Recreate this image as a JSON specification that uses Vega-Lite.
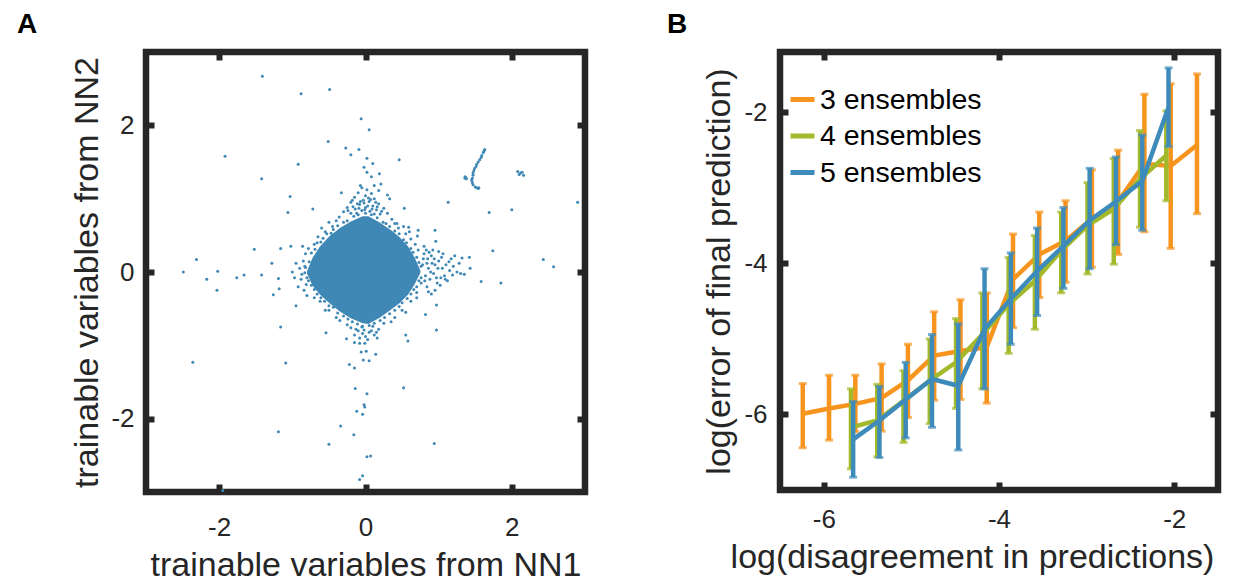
{
  "$schema": "https://vega.github.io/schema/vega-lite/v6.json",
  "background": "white",
  "padding": {"left": 13, "top": 7, "right": 0, "bottom": 0},
  "config": {
    "view": {"stroke": "#262626", "strokeWidth": 6.5},
    "font": "Liberation Sans",
    "axis": {"domain": false, "grid": false, "tickColor": "#262626", "tickWidth": 6, "tickSize": -8, "labelFont": "Liberation Sans", "labelFontSize": 26, "labelColor": "#262626", "titleFont": "Liberation Sans", "titleFontSize": 34, "titleFontWeight": "normal", "titleColor": "#262626", "labelFlush": false, "labelOverlap": false, "labelExpr": "toString(datum.value)"}
  },
  "spacing": 195,
  "bounds": "flush",
  "hconcat": [
    {
      "width": 439,
      "height": 440,
      "title": {"text": "A", "anchor": "start", "frame": "group", "dx": -129, "offset": -12, "fontSize": 28, "fontWeight": "bold", "color": "#000000", "font": "Liberation Sans", "baseline": "alphabetic"},
      "layer": [
        {
          "data": {"values": [
            {"x": -0.80, "top": 0.01, "bot": -0.02},
            {"x": -0.72, "top": 0.20, "bot": -0.19},
            {"x": -0.62, "top": 0.35, "bot": -0.31},
            {"x": -0.50, "top": 0.48, "bot": -0.42},
            {"x": -0.35, "top": 0.60, "bot": -0.54},
            {"x": -0.20, "top": 0.69, "bot": -0.63},
            {"x": -0.04, "top": 0.76, "bot": -0.70},
            {"x": 0.04, "top": 0.76, "bot": -0.71},
            {"x": 0.20, "top": 0.67, "bot": -0.62},
            {"x": 0.35, "top": 0.57, "bot": -0.51},
            {"x": 0.46, "top": 0.48, "bot": -0.43},
            {"x": 0.58, "top": 0.35, "bot": -0.31},
            {"x": 0.67, "top": 0.20, "bot": -0.17},
            {"x": 0.75, "top": 0.02, "bot": -0.01}
          ]},
          "mark": {"type": "area", "color": "#3f88b5", "opacity": 1, "interpolate": "linear"},
          "encoding": {
            "x": {"field": "x", "type": "quantitative", "scale": {"domain": [-3, 3], "nice": false, "zero": false},
                  "axis": {"orient": "bottom", "values": [-2, 0, 2], "title": "trainable variables from NN1", "labelBaseline": "alphabetic", "labelPadding": 51, "titleX": 219.5, "titleY": 83, "titleAlign": "center", "titleBaseline": "alphabetic"}},
            "y": {"field": "top", "type": "quantitative", "scale": {"domain": [-3, 3], "nice": false, "zero": false},
                  "axis": {"orient": "left", "values": [-2, 0, 2], "title": "trainable variables from NN2", "labelBaseline": "middle", "labelPadding": 20, "titleX": -49, "titleY": 220, "titleAlign": "center", "titleBaseline": "alphabetic", "titleAngle": -90}},
            "y2": {"field": "bot"}
          }
        },
        {
          "data": {"values": [
            {"x": -1.41, "y": 2.67}, {"x": -0.88, "y": 2.43}, {"x": -0.49, "y": 2.49}, {"x": -0.06, "y": 2.09}, {"x": 0.05, "y": 1.94},
            {"x": -1.92, "y": 1.58}, {"x": -0.51, "y": 1.78}, {"x": -0.27, "y": 1.69}, {"x": -0.09, "y": 1.67}, {"x": -0.20, "y": 1.60},
            {"x": 0.02, "y": 1.55}, {"x": 0.10, "y": 1.48}, {"x": -0.02, "y": 1.43}, {"x": 0.46, "y": 1.53}, {"x": -0.92, "y": 1.47},
            {"x": -1.42, "y": 1.27}, {"x": 0.02, "y": 1.36}, {"x": 0.08, "y": 1.30}, {"x": 0.19, "y": 1.34}, {"x": 0.12, "y": 1.18},
            {"x": 0.21, "y": 1.20}, {"x": -0.07, "y": 1.18}, {"x": 0.18, "y": 1.11}, {"x": -1.03, "y": 1.03}, {"x": -1.06, "y": 0.81},
            {"x": -0.72, "y": 0.86}, {"x": -0.33, "y": 1.08}, {"x": 0.30, "y": 1.05}, {"x": 0.33, "y": 1.00}, {"x": 0.53, "y": 0.87},
            {"x": 1.13, "y": 0.95}, {"x": 1.69, "y": 0.81}, {"x": 2.00, "y": 0.85}, {"x": 2.90, "y": 0.95}, {"x": 1.74, "y": 0.29},
            {"x": 2.43, "y": 0.17}, {"x": 2.57, "y": 0.07}, {"x": 1.58, "y": -0.13}, {"x": 1.85, "y": -0.15}, {"x": 1.42, "y": 0.20},
            {"x": 1.32, "y": 0.19}, {"x": 1.43, "y": 0.05}, {"x": 1.35, "y": -0.03}, {"x": 1.22, "y": 0.22}, {"x": 0.95, "y": 0.57},
            {"x": 0.72, "y": 0.57}, {"x": 0.96, "y": 0.42}, {"x": 0.71, "y": 0.49}, {"x": 0.59, "y": 0.61}, {"x": 0.43, "y": 0.66},
            {"x": 0.97, "y": -0.45}, {"x": 0.82, "y": -0.58}, {"x": 0.97, "y": -0.79}, {"x": 0.55, "y": -0.86}, {"x": 0.58, "y": -0.94},
            {"x": -2.49, "y": 0.00}, {"x": -2.31, "y": 0.17}, {"x": -2.02, "y": 0.01}, {"x": -2.17, "y": -0.10}, {"x": -2.03, "y": -0.25},
            {"x": -1.76, "y": -0.08}, {"x": -1.66, "y": -0.04}, {"x": -1.42, "y": -0.04}, {"x": -1.52, "y": 0.31}, {"x": -1.28, "y": 0.12},
            {"x": -1.16, "y": 0.32}, {"x": -1.02, "y": 0.35}, {"x": -1.19, "y": -0.09}, {"x": -1.26, "y": -0.31}, {"x": -1.18, "y": -0.23},
            {"x": -0.95, "y": -0.46}, {"x": -1.16, "y": -0.75}, {"x": -0.54, "y": -0.83}, {"x": -1.09, "y": -1.24}, {"x": -2.36, "y": -1.23},
            {"x": -0.26, "y": -0.91}, {"x": -0.15, "y": -0.96}, {"x": -0.08, "y": -0.97}, {"x": -0.01, "y": -0.97}, {"x": 0.16, "y": -0.90},
            {"x": -0.06, "y": -1.09}, {"x": 0.01, "y": -1.08}, {"x": 0.14, "y": -1.12}, {"x": -0.03, "y": -1.20}, {"x": 0.05, "y": -1.21},
            {"x": -0.22, "y": -1.26}, {"x": -0.15, "y": -1.31}, {"x": -0.14, "y": -1.59}, {"x": 0.02, "y": -1.66}, {"x": 0.52, "y": -1.58},
            {"x": -0.02, "y": -1.81}, {"x": -0.01, "y": -1.84}, {"x": -0.12, "y": -1.90}, {"x": -0.04, "y": -1.94}, {"x": -0.34, "y": -2.10},
            {"x": -0.16, "y": -2.22}, {"x": -1.19, "y": -2.18}, {"x": -0.50, "y": -2.35}, {"x": 0.94, "y": -2.34}, {"x": 0.02, "y": -2.52},
            {"x": 0.07, "y": -2.51}, {"x": -0.04, "y": -2.78}, {"x": -0.08, "y": -2.83}, {"x": -1.95, "y": -2.98},
            {"x": 1.63, "y": 1.67}, {"x": 1.62, "y": 1.65}, {"x": 1.61, "y": 1.63}, {"x": 1.59, "y": 1.59}, {"x": 1.58, "y": 1.56}, {"x": 1.56, "y": 1.53},
            {"x": 1.54, "y": 1.50}, {"x": 1.52, "y": 1.47}, {"x": 1.51, "y": 1.44}, {"x": 1.49, "y": 1.41}, {"x": 1.48, "y": 1.38},
            {"x": 1.47, "y": 1.35}, {"x": 1.47, "y": 1.32}, {"x": 1.46, "y": 1.28}, {"x": 1.45, "y": 1.25}, {"x": 1.46, "y": 1.22},
            {"x": 1.47, "y": 1.19}, {"x": 1.50, "y": 1.16}, {"x": 1.52, "y": 1.15}, {"x": 1.54, "y": 1.14}, {"x": 1.55, "y": 1.15},
            {"x": 1.36, "y": 1.28}, {"x": 1.37, "y": 1.29}, {"x": 1.36, "y": 1.30}, {"x": 1.38, "y": 1.27},
            {"x": 2.12, "y": 1.35}, {"x": 2.08, "y": 1.37}, {"x": 2.16, "y": 1.32}, {"x": 2.10, "y": 1.33}, {"x": 2.14, "y": 1.36},
            {"x": -0.05, "y": 1.15}, {"x": 0.02, "y": 1.12}, {"x": -0.10, "y": 1.08}, {"x": 0.08, "y": 1.07}, {"x": 0.00, "y": 1.04},
            {"x": -0.15, "y": 1.02}, {"x": 0.12, "y": 1.00}, {"x": -0.03, "y": 0.98}, {"x": 0.05, "y": 0.96}, {"x": -0.20, "y": 0.95},
            {"x": 0.18, "y": 0.93}, {"x": -0.08, "y": 0.92}, {"x": 0.10, "y": 0.90}, {"x": -0.25, "y": 0.88}, {"x": 0.25, "y": 0.87},
            {"x": 0.00, "y": 0.88}, {"x": -0.14, "y": 0.86}, {"x": 0.15, "y": 0.85}, {"x": -0.30, "y": 0.82}, {"x": 0.30, "y": 0.80},
            {"x": -0.05, "y": 0.84}, {"x": 0.06, "y": 0.83}, {"x": -0.20, "y": 0.80}, {"x": 0.20, "y": 0.79}, {"x": -0.36, "y": 0.75},
            {"x": 0.36, "y": 0.72}, {"x": -0.12, "y": 0.80}, {"x": 0.12, "y": 0.79},
            {"x": -0.02, "y": 0.94}, {"x": 0.03, "y": 0.90}, {"x": -0.07, "y": 0.96}, {"x": 0.07, "y": 0.99}, {"x": -0.11, "y": 0.93},
            {"x": 0.14, "y": 0.95}, {"x": -0.17, "y": 0.89}, {"x": 0.22, "y": 0.83}, {"x": -0.24, "y": 0.84}, {"x": 0.04, "y": 1.01},
            {"x": -0.01, "y": 0.85}, {"x": 0.09, "y": 0.86}, {"x": -0.09, "y": 0.87}, {"x": 0.16, "y": 0.89}, {"x": -0.18, "y": 0.98},
            {"x": 0.80, "y": 0.25}, {"x": 0.85, "y": 0.18}, {"x": 0.90, "y": 0.22}, {"x": 0.95, "y": 0.10}, {"x": 1.00, "y": 0.15},
            {"x": 1.05, "y": 0.05}, {"x": 1.10, "y": 0.10}, {"x": 1.15, "y": 0.02}, {"x": 1.20, "y": 0.08}, {"x": 0.82, "y": -0.05},
            {"x": 0.88, "y": -0.10}, {"x": 0.93, "y": -0.02}, {"x": 0.98, "y": -0.15}, {"x": 1.03, "y": -0.08}, {"x": 1.08, "y": -0.05},
            {"x": 0.78, "y": 0.10}, {"x": 0.86, "y": 0.05}, {"x": 0.92, "y": 0.30}, {"x": 0.84, "y": -0.20}, {"x": 0.95, "y": -0.25},
            {"x": 1.12, "y": -0.12}, {"x": 0.76, "y": -0.15}, {"x": 0.80, "y": 0.35}, {"x": 1.25, "y": 0.00}, {"x": 0.72, "y": 0.30},
            {"x": 0.70, "y": -0.28}, {"x": 1.00, "y": 0.28}, {"x": 0.90, "y": -0.30},
            {"x": 0.84, "y": 0.12}, {"x": 0.89, "y": 0.00}, {"x": 0.94, "y": 0.18}, {"x": 0.99, "y": 0.05}, {"x": 1.04, "y": 0.20},
            {"x": 1.09, "y": -0.10}, {"x": 1.14, "y": 0.14}, {"x": 1.19, "y": -0.04}, {"x": 1.28, "y": 0.12}, {"x": 1.30, "y": -0.02},
            {"x": 0.81, "y": -0.12}, {"x": 0.87, "y": 0.27}, {"x": 0.97, "y": -0.08}, {"x": 1.02, "y": -0.18}, {"x": 0.91, "y": 0.12},
            {"x": 0.79, "y": 0.18}, {"x": 0.83, "y": 0.30}, {"x": 1.06, "y": 0.25}, {"x": 1.17, "y": 0.18}, {"x": 0.86, "y": -0.27},
            {"x": -0.10, "y": -0.80}, {"x": 0.05, "y": -0.82}, {"x": -0.20, "y": -0.76}, {"x": 0.18, "y": -0.78}, {"x": 0.00, "y": -0.88},
            {"x": -0.05, "y": -0.75}, {"x": 0.10, "y": -0.74}, {"x": -0.15, "y": -0.86}, {"x": 0.12, "y": -0.86}, {"x": -0.25, "y": -0.72},
            {"x": 0.25, "y": -0.70}, {"x": 0.03, "y": -0.92}, {"x": -0.08, "y": -0.90},
            {"x": -0.02, "y": -0.79}, {"x": 0.08, "y": -0.80}, {"x": -0.13, "y": -0.78}, {"x": 0.15, "y": -0.82}, {"x": -0.04, "y": -0.84},
            {"x": -0.85, "y": 0.15}, {"x": -0.90, "y": 0.05}, {"x": -0.88, "y": -0.10}, {"x": -0.82, "y": 0.25}, {"x": -0.95, "y": 0.12},
            {"x": -0.92, "y": -0.20}, {"x": -0.84, "y": -0.25}, {"x": -1.00, "y": 0.00}, {"x": -0.78, "y": 0.32}, {"x": -0.80, "y": -0.32},
            {"x": -0.97, "y": -0.08}, {"x": -0.86, "y": 0.35}, {"x": -0.83, "y": 0.08}, {"x": -0.87, "y": -0.03}, {"x": -0.81, "y": -0.17},
            {"x": -0.55, "y": 0.55}, {"x": -0.65, "y": 0.48}, {"x": -0.45, "y": 0.62}, {"x": -0.70, "y": 0.38}, {"x": -0.40, "y": 0.70},
            {"x": -0.60, "y": 0.60}, {"x": -0.50, "y": 0.68}, {"x": 0.45, "y": 0.60}, {"x": 0.55, "y": 0.52}, {"x": 0.62, "y": 0.45},
            {"x": 0.40, "y": 0.66}, {"x": 0.68, "y": 0.38}, {"x": 0.52, "y": 0.62}, {"x": 0.60, "y": 0.55}, {"x": 0.62, "y": -0.40},
            {"x": 0.50, "y": -0.52}, {"x": 0.40, "y": -0.62}, {"x": 0.70, "y": -0.35}, {"x": 0.55, "y": -0.55}, {"x": 0.35, "y": -0.68},
            {"x": -0.62, "y": -0.40}, {"x": -0.50, "y": -0.52}, {"x": -0.40, "y": -0.62}, {"x": -0.70, "y": -0.35}, {"x": -0.55, "y": -0.52},
            {"x": -0.35, "y": -0.66},
            {"x": -0.74, "y": 0.26}, {"x": -0.66, "y": 0.40}, {"x": -0.58, "y": 0.46}, {"x": -0.44, "y": 0.58}, {"x": -0.30, "y": 0.68},
            {"x": -0.16, "y": 0.76}, {"x": 0.00, "y": 0.80}, {"x": 0.16, "y": 0.74}, {"x": 0.28, "y": 0.66}, {"x": 0.40, "y": 0.56},
            {"x": 0.52, "y": 0.44}, {"x": 0.62, "y": 0.32}, {"x": 0.70, "y": 0.20}, {"x": 0.76, "y": 0.08}, {"x": 0.76, "y": -0.08},
            {"x": 0.70, "y": -0.20}, {"x": 0.62, "y": -0.30}, {"x": 0.50, "y": -0.42}, {"x": 0.40, "y": -0.52}, {"x": 0.26, "y": -0.62},
            {"x": 0.12, "y": -0.70}, {"x": -0.04, "y": -0.74}, {"x": -0.18, "y": -0.68}, {"x": -0.30, "y": -0.60}, {"x": -0.44, "y": -0.48},
            {"x": -0.56, "y": -0.40}, {"x": -0.66, "y": -0.30}, {"x": -0.74, "y": -0.18}, {"x": -0.82, "y": 0.06}, {"x": -0.80, "y": -0.08},
            {"x": -0.77, "y": 0.14}, {"x": -0.69, "y": 0.31}, {"x": -0.61, "y": 0.41}, {"x": -0.53, "y": 0.52}, {"x": -0.47, "y": 0.53},
            {"x": -0.38, "y": 0.63}, {"x": -0.25, "y": 0.70}, {"x": -0.10, "y": 0.78}, {"x": 0.08, "y": 0.78}, {"x": 0.24, "y": 0.68},
            {"x": 0.33, "y": 0.62}, {"x": 0.46, "y": 0.52}, {"x": 0.56, "y": 0.40}, {"x": 0.65, "y": 0.27}, {"x": 0.73, "y": 0.13},
            {"x": 0.73, "y": -0.12}, {"x": 0.66, "y": -0.24}, {"x": 0.57, "y": -0.36}, {"x": 0.46, "y": -0.47}, {"x": 0.33, "y": -0.57},
            {"x": 0.20, "y": -0.66}, {"x": 0.05, "y": -0.73}, {"x": -0.11, "y": -0.71}, {"x": -0.24, "y": -0.64}, {"x": -0.38, "y": -0.56},
            {"x": -0.50, "y": -0.46}, {"x": -0.61, "y": -0.35}, {"x": -0.70, "y": -0.24}, {"x": -0.78, "y": -0.12}, {"x": -0.83, "y": -0.01}
          ]},
          "mark": {"type": "circle", "size": 9, "color": "#3f88b5", "opacity": 1},
          "encoding": {
            "x": {"field": "x", "type": "quantitative", "scale": {"domain": [-3, 3], "nice": false, "zero": false},
                  "axis": {"orient": "top", "values": [-2, 0, 2], "labels": false, "title": null}},
            "y": {"field": "y", "type": "quantitative", "scale": {"domain": [-3, 3], "nice": false, "zero": false},
                  "axis": {"orient": "right", "values": [-2, 0, 2], "labels": false, "title": null}}
          }
        }
      ],
      "resolve": {"axis": {"x": "independent", "y": "independent"}}
    },
    {
      "width": 438,
      "height": 438,
      "title": {"text": "B", "anchor": "start", "frame": "group", "dx": -113, "offset": -12, "fontSize": 28, "fontWeight": "bold", "color": "#000000", "font": "Liberation Sans", "baseline": "alphabetic"},
      "data": {"values": [
        {"ens": "3 ensembles", "x": -6.24, "y": -5.99, "hi": -5.59, "lo": -6.44},
        {"ens": "3 ensembles", "x": -5.94, "y": -5.92, "hi": -5.48, "lo": -6.34},
        {"ens": "3 ensembles", "x": -5.64, "y": -5.86, "hi": -5.48, "lo": -6.23},
        {"ens": "3 ensembles", "x": -5.34, "y": -5.78, "hi": -5.33, "lo": -6.22},
        {"ens": "3 ensembles", "x": -5.04, "y": -5.55, "hi": -5.07, "lo": -6.04},
        {"ens": "3 ensembles", "x": -4.74, "y": -5.22, "hi": -4.64, "lo": -5.81},
        {"ens": "3 ensembles", "x": -4.44, "y": -5.16, "hi": -4.48, "lo": -5.80},
        {"ens": "3 ensembles", "x": -4.14, "y": -5.11, "hi": -4.39, "lo": -5.85},
        {"ens": "3 ensembles", "x": -3.84, "y": -4.21, "hi": -3.61, "lo": -4.85},
        {"ens": "3 ensembles", "x": -3.54, "y": -3.88, "hi": -3.32, "lo": -4.45},
        {"ens": "3 ensembles", "x": -3.24, "y": -3.70, "hi": -3.17, "lo": -4.25},
        {"ens": "3 ensembles", "x": -2.94, "y": -3.41, "hi": -2.76, "lo": -4.05},
        {"ens": "3 ensembles", "x": -2.64, "y": -3.18, "hi": -2.50, "lo": -3.88},
        {"ens": "3 ensembles", "x": -2.34, "y": -2.68, "hi": -1.76, "lo": -3.58},
        {"ens": "3 ensembles", "x": -2.04, "y": -2.71, "hi": -1.62, "lo": -3.80},
        {"ens": "3 ensembles", "x": -1.74, "y": -2.43, "hi": -1.49, "lo": -3.34},
        {"ens": "4 ensembles", "x": -5.69, "y": -6.17, "hi": -5.66, "lo": -6.72},
        {"ens": "4 ensembles", "x": -5.39, "y": -6.08, "hi": -5.60, "lo": -6.56},
        {"ens": "4 ensembles", "x": -5.09, "y": -5.82, "hi": -5.42, "lo": -6.37},
        {"ens": "4 ensembles", "x": -4.79, "y": -5.55, "hi": -5.00, "lo": -6.12},
        {"ens": "4 ensembles", "x": -4.49, "y": -5.31, "hi": -4.73, "lo": -5.92},
        {"ens": "4 ensembles", "x": -4.19, "y": -4.94, "hi": -4.39, "lo": -5.66},
        {"ens": "4 ensembles", "x": -3.89, "y": -4.54, "hi": -3.92, "lo": -5.19},
        {"ens": "4 ensembles", "x": -3.59, "y": -4.23, "hi": -3.63, "lo": -4.87},
        {"ens": "4 ensembles", "x": -3.29, "y": -3.83, "hi": -3.32, "lo": -4.39},
        {"ens": "4 ensembles", "x": -2.99, "y": -3.50, "hi": -2.93, "lo": -4.14},
        {"ens": "4 ensembles", "x": -2.69, "y": -3.28, "hi": -2.61, "lo": -4.01},
        {"ens": "4 ensembles", "x": -2.39, "y": -2.88, "hi": -2.24, "lo": -3.52},
        {"ens": "4 ensembles", "x": -2.09, "y": -2.57, "hi": -1.98, "lo": -3.17},
        {"ens": "5 ensembles", "x": -5.665, "y": -6.33, "hi": -5.83, "lo": -6.83},
        {"ens": "5 ensembles", "x": -5.365, "y": -6.08, "hi": -5.63, "lo": -6.57},
        {"ens": "5 ensembles", "x": -5.065, "y": -5.80, "hi": -5.31, "lo": -6.31},
        {"ens": "5 ensembles", "x": -4.765, "y": -5.53, "hi": -4.94, "lo": -6.17},
        {"ens": "5 ensembles", "x": -4.465, "y": -5.62, "hi": -4.80, "lo": -6.47},
        {"ens": "5 ensembles", "x": -4.165, "y": -4.87, "hi": -4.07, "lo": -5.66},
        {"ens": "5 ensembles", "x": -3.865, "y": -4.47, "hi": -3.86, "lo": -5.07},
        {"ens": "5 ensembles", "x": -3.565, "y": -4.10, "hi": -3.53, "lo": -4.69},
        {"ens": "5 ensembles", "x": -3.265, "y": -3.77, "hi": -3.26, "lo": -4.33},
        {"ens": "5 ensembles", "x": -2.965, "y": -3.43, "hi": -2.74, "lo": -4.07},
        {"ens": "5 ensembles", "x": -2.665, "y": -3.18, "hi": -2.59, "lo": -3.75},
        {"ens": "5 ensembles", "x": -2.365, "y": -2.91, "hi": -2.30, "lo": -3.56},
        {"ens": "5 ensembles", "x": -2.065, "y": -1.93, "hi": -1.41, "lo": -2.45}
      ]},
      "layer": [
        {
          "transform": [{"filter": "datum.ens == '3 ensembles'"}],
          "mark": {"type": "rule", "color": "#f7941d", "strokeWidth": 4.5},
          "encoding": {
            "x": {"field": "x", "type": "quantitative", "scale": {"domain": [-6.5, -1.5], "nice": false, "zero": false},
                  "axis": {"orient": "bottom", "values": [-6, -4, -2], "title": "log(disagreement in predictions)", "labelBaseline": "alphabetic", "labelPadding": 45, "titleX": 192, "titleY": 77, "titleAlign": "center", "titleBaseline": "alphabetic"}},
            "y": {"field": "lo", "type": "quantitative", "scale": {"domain": [-7, -1.2], "nice": false, "zero": false},
                  "axis": {"orient": "left", "values": [-6, -4, -2], "title": "log(error of final prediction)", "labelBaseline": "middle", "labelPadding": 21, "titleX": -51, "titleY": 219, "titleAlign": "center", "titleBaseline": "alphabetic", "titleAngle": -90}},
            "y2": {"field": "hi"}
          }
        },
        {
          "transform": [{"filter": "datum.ens == '3 ensembles'"}, {"fold": ["lo", "hi"], "as": ["end", "v"]}],
          "mark": {"type": "tick", "orient": "horizontal", "color": "#f7941d", "size": 8, "thickness": 3},
          "encoding": {
            "x": {"field": "x", "type": "quantitative", "scale": {"domain": [-6.5, -1.5], "nice": false, "zero": false},
                  "axis": {"orient": "top", "values": [-6, -4, -2], "labels": false, "title": null}},
            "y": {"field": "v", "type": "quantitative", "scale": {"domain": [-7, -1.2], "nice": false, "zero": false},
                  "axis": {"orient": "right", "values": [-6, -4, -2], "labels": false, "title": null}}
          }
        },
        {
          "transform": [{"filter": "datum.ens == '3 ensembles'"}],
          "mark": {"type": "line", "strokeWidth": 4.5},
          "encoding": {
            "x": {"field": "x", "type": "quantitative", "scale": {"domain": [-6.5, -1.5], "nice": false, "zero": false}, "axis": null},
            "y": {"field": "y", "type": "quantitative", "scale": {"domain": [-7, -1.2], "nice": false, "zero": false}, "axis": null},
            "color": {"field": "ens", "type": "nominal",
                      "scale": {"domain": ["3 ensembles", "4 ensembles", "5 ensembles"], "range": ["#f7941d", "#a3b92b", "#3d8bbb"]},
                      "legend": {"orient": "none", "legendX": 642, "legendY": 33, "title": null, "symbolType": "stroke", "symbolStrokeWidth": 5, "symbolSize": 576, "labelFontSize": 28.5, "labelFont": "Liberation Sans", "labelColor": "#000000", "labelLimit": 0, "rowPadding": 7.5, "labelOffset": 3, "padding": 0}}
          }
        },
        {
          "transform": [{"filter": "datum.ens == '4 ensembles'"}],
          "mark": {"type": "rule", "color": "#a3b92b", "strokeWidth": 4.5},
          "encoding": {
            "x": {"field": "x", "type": "quantitative", "scale": {"domain": [-6.5, -1.5], "nice": false, "zero": false}, "axis": null},
            "y": {"field": "lo", "type": "quantitative", "scale": {"domain": [-7, -1.2], "nice": false, "zero": false}, "axis": null},
            "y2": {"field": "hi"}
          }
        },
        {
          "transform": [{"filter": "datum.ens == '4 ensembles'"}, {"fold": ["lo", "hi"], "as": ["end", "v"]}],
          "mark": {"type": "tick", "orient": "horizontal", "color": "#a3b92b", "size": 8, "thickness": 3},
          "encoding": {
            "x": {"field": "x", "type": "quantitative", "scale": {"domain": [-6.5, -1.5], "nice": false, "zero": false}, "axis": null},
            "y": {"field": "v", "type": "quantitative", "scale": {"domain": [-7, -1.2], "nice": false, "zero": false}, "axis": null}
          }
        },
        {
          "transform": [{"filter": "datum.ens == '4 ensembles'"}],
          "mark": {"type": "line", "strokeWidth": 4.5},
          "encoding": {
            "x": {"field": "x", "type": "quantitative", "scale": {"domain": [-6.5, -1.5], "nice": false, "zero": false}, "axis": null},
            "y": {"field": "y", "type": "quantitative", "scale": {"domain": [-7, -1.2], "nice": false, "zero": false}, "axis": null},
            "color": {"field": "ens", "type": "nominal"}
          }
        },
        {
          "transform": [{"filter": "datum.ens == '5 ensembles'"}],
          "mark": {"type": "rule", "color": "#3d8bbb", "strokeWidth": 4.5},
          "encoding": {
            "x": {"field": "x", "type": "quantitative", "scale": {"domain": [-6.5, -1.5], "nice": false, "zero": false}, "axis": null},
            "y": {"field": "lo", "type": "quantitative", "scale": {"domain": [-7, -1.2], "nice": false, "zero": false}, "axis": null},
            "y2": {"field": "hi"}
          }
        },
        {
          "transform": [{"filter": "datum.ens == '5 ensembles'"}, {"fold": ["lo", "hi"], "as": ["end", "v"]}],
          "mark": {"type": "tick", "orient": "horizontal", "color": "#3d8bbb", "size": 8, "thickness": 3},
          "encoding": {
            "x": {"field": "x", "type": "quantitative", "scale": {"domain": [-6.5, -1.5], "nice": false, "zero": false}, "axis": null},
            "y": {"field": "v", "type": "quantitative", "scale": {"domain": [-7, -1.2], "nice": false, "zero": false}, "axis": null}
          }
        },
        {
          "transform": [{"filter": "datum.ens == '5 ensembles'"}],
          "mark": {"type": "line", "strokeWidth": 4.5},
          "encoding": {
            "x": {"field": "x", "type": "quantitative", "scale": {"domain": [-6.5, -1.5], "nice": false, "zero": false}, "axis": null},
            "y": {"field": "y", "type": "quantitative", "scale": {"domain": [-7, -1.2], "nice": false, "zero": false}, "axis": null},
            "color": {"field": "ens", "type": "nominal"}
          }
        }
      ],
      "resolve": {"axis": {"x": "independent", "y": "independent"}}
    }
  ]
}
